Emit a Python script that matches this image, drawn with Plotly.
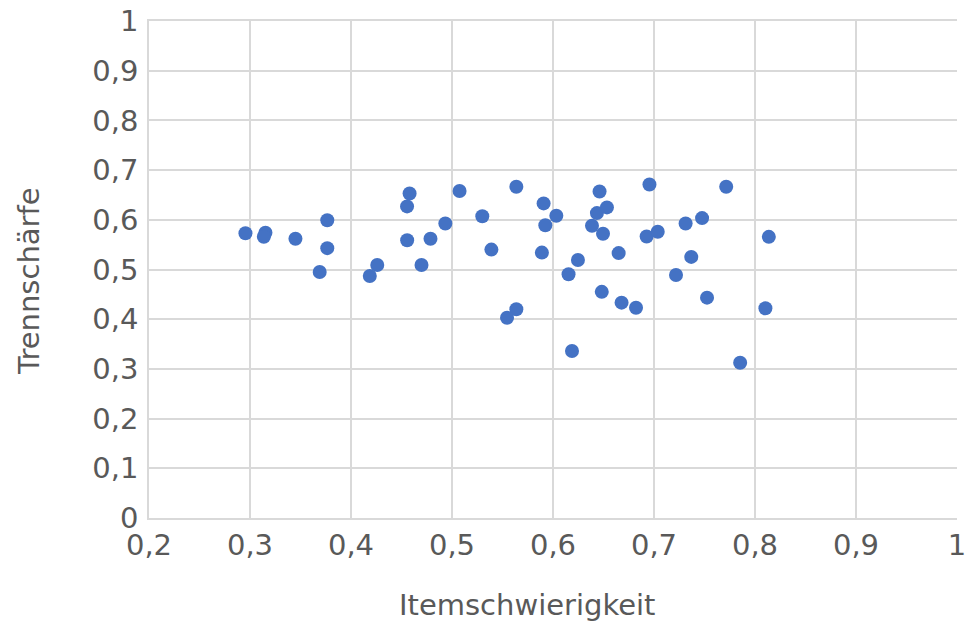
import plotly.graph_objects as go

itemschwierigkeit = [
    0.2955, 0.3153, 0.3137, 0.345, 0.3765, 0.3765, 0.369, 0.426, 0.4186,
    0.458, 0.4555, 0.4556, 0.4787, 0.4698,
    0.4934, 0.5075, 0.539, 0.530, 0.5637, 0.5637, 0.5545, 0.5907, 0.5924,
    0.6033, 0.589, 0.6154, 0.6247, 0.6188, 0.6461, 0.6435, 0.6534, 0.6386,
    0.6495, 0.6650, 0.6483, 0.6679, 0.6822, 0.6955, 0.6927, 0.7037, 0.7218,
    0.7715, 0.7476, 0.7313, 0.7369, 0.7525, 0.8137, 0.8103, 0.7853,
]
trennschaerfe = [
    0.573, 0.574, 0.566, 0.562, 0.599, 0.543, 0.495, 0.509, 0.487,
    0.653, 0.627, 0.559, 0.562, 0.509,
    0.5925, 0.658, 0.540, 0.607, 0.6665, 0.420, 0.403, 0.633, 0.589,
    0.608, 0.534, 0.4905, 0.519, 0.336, 0.657, 0.6135, 0.625, 0.588,
    0.572, 0.533, 0.455, 0.4333, 0.423, 0.671, 0.5664, 0.576, 0.489,
    0.6665, 0.6034, 0.5925, 0.5254, 0.4434, 0.5657, 0.422, 0.3123,
]

x_ticks = [0.2, 0.3, 0.4, 0.5, 0.6, 0.7, 0.8, 0.9, 1.0]
y_ticks = [0, 0.1, 0.2, 0.3, 0.4, 0.5, 0.6, 0.7, 0.8, 0.9, 1.0]
x_title = "Itemschwierigkeit"
y_title = "Trennschärfe"

fig = go.Figure(
    go.Scatter(
        x=itemschwierigkeit,
        y=trennschaerfe,
        mode="markers",
        marker=dict(color="#4472C4", size=14, line=dict(width=0)),
        hoverinfo="skip",
    )
)

font_fam = "DejaVu Sans"
grid = "#D9D9D9"
txt = "#595959"

# page body has an 8px default margin, so the figure is offset by 8px
OFF = 8
W, H = 975 - OFF, 622 - OFF
L, T = 149 - OFF, 21 - OFF
R = W - (957 - OFF)
B = H - (518 - OFF)
pw, ph = W - L - R, H - T - B

def px_to_paper(px, py):
    return (px - OFF - L) / pw, 1 - (py - OFF - T) / ph

xt_x, xt_y = px_to_paper(527, 605)
yt_x, yt_y = px_to_paper(29, 281)

fig.update_layout(
    width=W,
    height=H,
    margin=dict(l=L, r=R, t=T, b=B, autoexpand=False),
    paper_bgcolor="white",
    plot_bgcolor="white",
    separators=", ",
    showlegend=False,
    font=dict(family=font_fam, color=txt),
    annotations=[
        dict(text=x_title, xref="paper", yref="paper", x=xt_x, y=xt_y,
             xanchor="center", yanchor="middle", showarrow=False,
             font=dict(size=29, color=txt, family=font_fam)),
        dict(text=y_title, xref="paper", yref="paper", x=yt_x, y=yt_y,
             xanchor="center", yanchor="middle", showarrow=False, textangle=-90,
             font=dict(size=29, color=txt, family=font_fam)),
    ],
)
fig.update_xaxes(
    range=[0.2, 1.0],
    tickvals=x_ticks,
    showgrid=True,
    gridcolor=grid,
    gridwidth=1.5,
    showline=True,
    mirror=True,
    linecolor=grid,
    linewidth=1.5,
    zeroline=False,
    ticks="",
    automargin=False,
    ticklabeloverflow="allow",
    tickfont=dict(size=29, color=txt, family=font_fam),
)
fig.update_yaxes(
    range=[0, 1.0],
    tickvals=y_ticks,
    showgrid=True,
    gridcolor=grid,
    gridwidth=1.5,
    showline=True,
    linecolor=grid,
    linewidth=1.5,
    zeroline=False,
    ticks="",
    automargin=False,
    ticklabelstandoff=3,
    ticklabeloverflow="allow",
    tickfont=dict(size=29, color=txt, family=font_fam),
)

fig.write_html("out.html")
